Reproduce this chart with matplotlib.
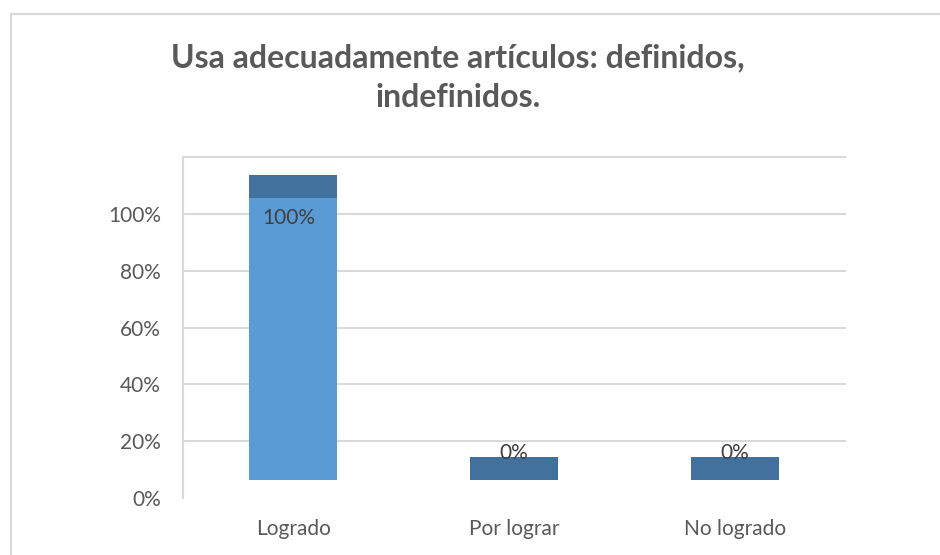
import matplotlib
matplotlib.use("Agg")
import matplotlib.pyplot as plt
from matplotlib.lines import Line2D
import numpy as np

plt.rcParams['font.family'] = ['Lato', 'DejaVu Sans']

categories = ["Logrado", "Por lograr", "No logrado"]
values = [1.00, 0.00, 0.00]
value_labels = ["100%", "0%", "0%"]
yticks = [0.0, 0.2, 0.4, 0.6, 0.8, 1.0]
ytick_labels = ["0%", "20%", "40%", "60%", "80%", "100%"]
title = "Usa adecuadamente artículos: definidos,\nindefinidos."

# pseudo-3D look (floor offset and top-face depth, in axis units)
floor = 0.062
scale = 0.995
depth = 0.08

W, H = 940, 555
fig = plt.figure(figsize=(W / 100, H / 100), dpi=100)
fig.patch.set_facecolor("white")

# chart border (top and left only visible)
border_c = "#D9D9D9"
fig.add_artist(Line2D([11 / W, 1.0], [1 - 14 / H, 1 - 14 / H], color=border_c, lw=1.5,
                      transform=fig.transFigure))
fig.add_artist(Line2D([11 / W, 11 / W], [0.0, 1 - 14 / H], color=border_c, lw=1.5,
                      transform=fig.transFigure))

ax = fig.add_axes([183 / W, (H - 497.7) / H, (845 - 183) / W, (497.7 - 157.3) / H])
x = np.arange(len(categories))
vals = np.array(values)
body_h = vals * scale
ax.bar(x, body_h, bottom=floor, width=0.4, color="#5B9BD5", zorder=3)
ax.bar(x, np.full(len(x), depth), bottom=floor + body_h, width=0.4, color="#41719C", zorder=3)

for xi, v, lab in zip(x, vals, value_labels):
    top = floor + v * scale
    y = top - 0.072 if v > 0.5 else top + 0.096
    ax.text(xi - (0.02 if v > 0.5 else 0), y, lab, ha="center", va="center",
            fontsize=15, color="#404040", zorder=4)

ax.set_xlim(-0.5, len(categories) - 0.5)
ax.set_ylim(0, 1.2)
ax.set_yticks(yticks)
ax.set_yticklabels(ytick_labels)
ax.set_xticks(x)
ax.set_xticklabels(categories)
ax.tick_params(axis="both", length=0, labelsize=15, labelcolor="#595959")
ax.tick_params(axis="y", pad=16)
ax.tick_params(axis="x", pad=15)
for yv in [0.2, 0.4, 0.6, 0.8, 1.0, 1.2]:
    ax.axhline(yv, color="#D9D9D9", lw=1.5, zorder=1, clip_on=False)
for s in ["top", "right", "bottom"]:
    ax.spines[s].set_visible(False)
ax.spines["left"].set_color("#D9D9D9")
ax.spines["left"].set_linewidth(1.5)

fig.text(458 / W, 1 - 78 / H, title, ha="center", va="center", fontsize=23,
         fontweight="bold", color="#595959", linespacing=1.45)

fig.savefig("out.png", dpi=100)
